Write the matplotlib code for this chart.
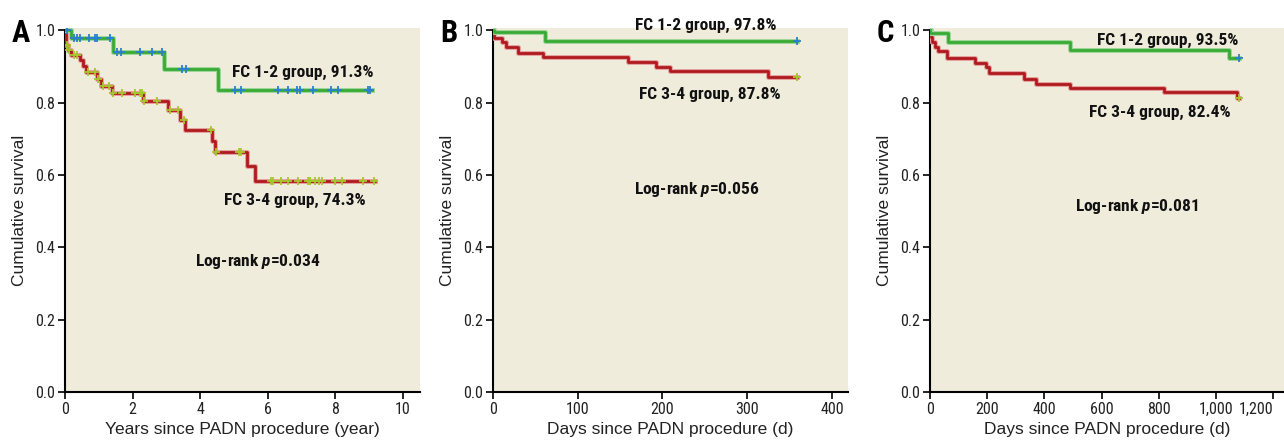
import numpy as np
import matplotlib
matplotlib.use("Agg")
import matplotlib.pyplot as plt
import matplotlib.patheffects as pe
from matplotlib.ticker import FuncFormatter

# --- Kaplan-Meier curves ---
# Panel A (years)
a_g_t = [0, 0.18, 1.43, 2.94, 4.53, 9.09]
a_g_s = [1.0, 0.977, 0.940, 0.892, 0.834, 0.834]
a_g_cens = [0.05, 0.27, 0.36, 0.44, 0.72, 0.88, 0.94, 1.33, 1.53, 1.65, 2.22, 2.56, 2.86,
            3.45, 3.58, 5.02, 5.22, 6.31, 6.60, 6.85, 6.95, 7.34, 7.88, 8.08, 8.97, 9.03]
a_r_t = [0, 0.03, 0.10, 0.17, 0.44, 0.54, 0.61, 0.94, 1.06, 1.40, 2.32, 3.05, 3.40, 3.55,
         4.34, 4.43, 5.37, 5.62, 9.16]
a_r_s = [1.0, 0.96, 0.945, 0.931, 0.917, 0.90, 0.885, 0.865, 0.845, 0.827, 0.805, 0.779,
         0.751, 0.724, 0.694, 0.662, 0.625, 0.583, 0.583]
a_r_cens = [0.06, 0.12, 0.28, 0.36, 0.69, 0.90, 0.97, 1.11, 1.31, 1.43, 1.70, 2.07, 2.22,
            2.27, 2.33, 2.71, 3.10, 3.35, 3.53, 4.32, 4.48, 5.15, 5.22, 6.08, 6.14, 6.38,
            6.60, 6.88, 7.19, 7.26, 7.39, 7.52, 7.59, 7.98, 8.18, 8.82, 9.13]

# Panel B (days)
b_g_t = [0, 1, 61, 359]
b_g_s = [1.0, 0.994, 0.970, 0.970]
b_g_cens = [359]
b_r_t = [0, 1, 11, 15, 30, 59, 159, 192, 209, 325, 359]
b_r_s = [1.0, 0.977, 0.966, 0.954, 0.937, 0.926, 0.912, 0.899, 0.886, 0.871, 0.871]
b_r_cens = [359]

# Panel C (days)
c_g_t = [0, 1, 64, 490, 1044, 1082]
c_g_s = [1.0, 0.992, 0.967, 0.945, 0.923, 0.923]
c_g_cens = [1082]
c_r_t = [0, 2, 6, 17, 29, 60, 157, 195, 206, 327, 371, 490, 820, 1075, 1082]
c_r_s = [1.0, 0.98, 0.968, 0.954, 0.942, 0.922, 0.910, 0.899, 0.882, 0.866, 0.852, 0.841,
         0.828, 0.813, 0.813]
c_r_cens = [1082]

labels_12 = ["FC 1-2 group, 91.3%", "FC 1-2 group, 97.8%", "FC 1-2 group, 93.5%"]
labels_34 = ["FC 3-4 group, 74.3%", "FC 3-4 group, 87.8%", "FC 3-4 group, 82.4%"]
pvals = ["0.034", "0.056", "0.081"]
xlabels = ["Years since PADN procedure (year)", "Days since PADN procedure (d)",
           "Days since PADN procedure (d)"]
panel_letters = ["A", "B", "C"]

bg_c = '#f0ecdc'
green_c = '#3aaa35'
red_c = '#b01a1e'
blue_mark = '#2b7fd0'
yg_mark = '#a6c62c'

# condensed faces first, Roboto as the narrowest sure fallback
narrow = ['Roboto Condensed', 'Liberation Sans Narrow', 'Roboto', 'DejaVu Sans']
plt.rcParams['font.family'] = ['Liberation Sans', 'DejaVu Sans']
plt.rcParams['mathtext.fontset'] = 'custom'
plt.rcParams['mathtext.it'] = 'Roboto Condensed:italic:bold'
plt.rcParams['mathtext.rm'] = 'Roboto Condensed:bold'

fig = plt.figure(figsize=(12.84, 4.4), dpi=100)
W, H = 1284, 440

# axes boxes in pixels: left, right ; top 28, bottom 392
boxes = [(65, 420, 10.5), (493, 848, 419), (930, 1284, 1238)]
xticks = [np.arange(0, 11, 2), np.arange(0, 401, 100), np.arange(0, 1201, 200)]

curves = [
    (a_g_t, a_g_s, a_g_cens, a_r_t, a_r_s, a_r_cens),
    (b_g_t, b_g_s, b_g_cens, b_r_t, b_r_s, b_r_cens),
    (c_g_t, c_g_s, c_g_cens, c_r_t, c_r_s, c_r_cens),
]
# text anchors (data coords): FC1-2, FC3-4, log-rank
text_pos = [
    [(4.94, 0.884), (4.70, 0.530), (3.85, 0.362)],
    [(168, 1.014), (172, 0.823), (166, 0.561)],
    [(584, 0.972), (556, 0.773), (507, 0.514)],
]


def level_at(t, s, c):
    idx = np.searchsorted(t, c, side='right') - 1
    return np.asarray(s)[idx]


for i in range(3):
    left, right, xmax = boxes[i]
    ax = fig.add_axes([left / W, (H - 392) / H, (right - left) / W, 364 / H])
    ax.set_facecolor(bg_c)
    ax.set_xlim(0, xmax)
    ax.set_ylim(0, 1.006)
    for sp in ['top', 'right']:
        ax.spines[sp].set_visible(False)
    ax.spines['left'].set_bounds(0, 1.0)
    ax.spines['left'].set_linewidth(1.5)
    ax.spines['bottom'].set_linewidth(1.5)

    gt, gs, gc, rt, rs, rc = curves[i]
    halo_g = [pe.Stroke(linewidth=3.6, foreground='#9fd79a'), pe.Normal()]
    halo_r = [pe.Stroke(linewidth=3.6, foreground='#e4a3a0'), pe.Normal()]
    ax.step(rt, rs, where='post', color=red_c, lw=2.0, path_effects=halo_r, zorder=3)
    ax.step(gt, gs, where='post', color=green_c, lw=2.0, path_effects=halo_g, zorder=3)
    ax.plot(rc, level_at(rt, rs, rc), '+', color=yg_mark, ms=6, mew=1.3, zorder=4)
    ax.plot(gc, level_at(gt, gs, gc), '+', color=blue_mark, ms=6, mew=1.3, zorder=4)

    ax.set_yticks(np.arange(0, 1.01, 0.2))
    ax.yaxis.set_major_formatter(FuncFormatter(lambda v, p: f"{v:.1f}"))
    ax.set_xticks(xticks[i])
    ax.xaxis.set_major_formatter(FuncFormatter(lambda v, p: f"{int(v):,}"))
    ax.tick_params(direction='out', length=5, width=1.2, color='black', labelsize=11.5,
                   pad=2)
    for lab in ax.get_xticklabels() + ax.get_yticklabels():
        lab.set_family(narrow)
        lab.set_color('#222222')
    if i == 2:
        # last label sits on the figure edge, keep it inside
        ax.get_xticklabels()[-1].set_horizontalalignment('right')
        ax.get_xticklabels()[-1].set_x(1238)

    ax.set_ylabel("Cumulative survival", fontsize=12.5, color='#222222', labelpad=6)
    ax.set_xlabel(xlabels[i], fontsize=12.5, color='#222222', labelpad=4)

    (x1, y1), (x2, y2), (x3, y3) = text_pos[i]
    tkw = dict(family=narrow, fontweight='bold', fontsize=12.5, color='#111111',
               va='center', ha='left', clip_on=False)
    ax.text(x1, y1, labels_12[i], **tkw)
    ax.text(x2, y2, labels_34[i], **tkw)
    ax.text(x3, y3, "Log-rank $p$=" + pvals[i], **tkw)

    fig.text((left - 53) / W, (H - 42) / H, panel_letters[i], family=narrow,
             fontweight='bold', fontsize=22, color='black', ha='left', va='baseline')

fig.savefig("out.png", dpi=100)
